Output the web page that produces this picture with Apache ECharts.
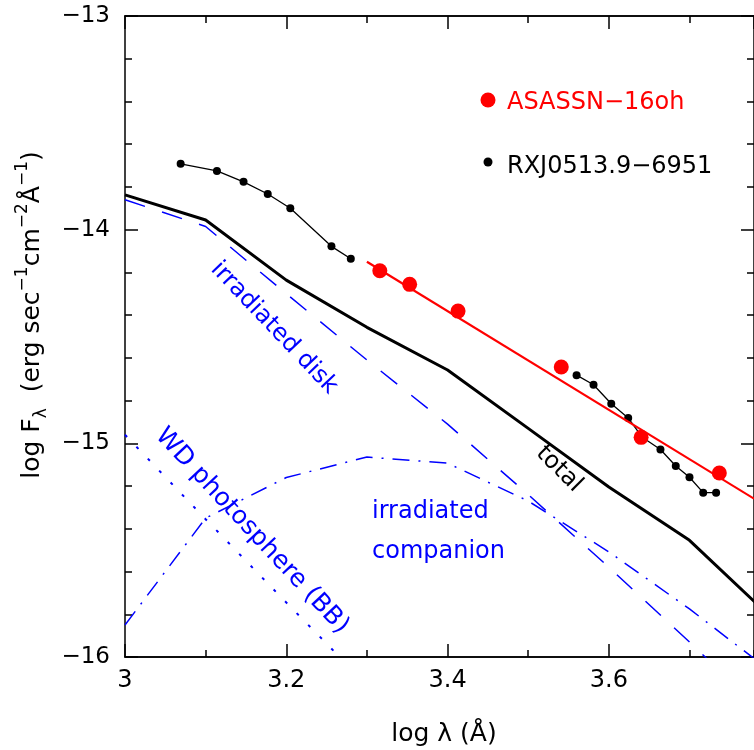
<!DOCTYPE html>
<html><head><meta charset="utf-8">
<script src="https://cdn.jsdelivr.net/npm/echarts@6/dist/echarts.min.js"></script>
<style>html,body{margin:0;padding:0;background:#fff}#c{width:754px;height:750px}</style>
</head><body><div id="c"></div>
<script>
// ---- data ----
const modelX      = [3.0, 3.1, 3.2, 3.3, 3.4, 3.5, 3.6, 3.7, 3.8];
const totalY      = [-13.837, -13.955, -14.236, -14.457, -14.657, -14.93, -15.204, -15.454, -15.81];
const diskY       = [-13.86, -13.985, -14.30, -14.61, -14.91, -15.24, -15.58, -15.93, -16.29];
const companionY  = [-15.85, -15.35, -15.16, -15.064, -15.093, -15.27, -15.508, -15.775, -16.065];
const wdX         = [3.0, 3.1, 3.2, 3.3];
const wdY         = [-14.96, -15.355, -15.745, -16.13];
const rxjX1       = [3.069, 3.114, 3.147, 3.177, 3.205, 3.256, 3.280];
const rxjY1       = [-13.692, -13.725, -13.776, -13.833, -13.900, -14.078, -14.136];
const rxjX2       = [3.560, 3.581, 3.603, 3.624, 3.641, 3.664, 3.683, 3.700, 3.717, 3.733];
const rxjY2       = [-14.681, -14.726, -14.815, -14.881, -14.970, -15.029, -15.106, -15.159, -15.231, -15.231];
const asasX       = [3.316, 3.353, 3.413, 3.541, 3.640, 3.737];
const asasY       = [-14.192, -14.256, -14.381, -14.643, -14.972, -15.139];
const fitX        = [3.30, 3.78];
const fitY        = [-14.150, -15.259];
const xTickLabels = ['3', '3.2', '3.4', '3.6'];
const yTickLabels = ['−16', '−15', '−14', '−13'];

const zip = (xs, ys) => xs.map((x, i) => [x, ys[i]]);
const F = 'DejaVu Sans';
const BLUE = '#0000ff', RED = '#ff0000';

function xAx(pos, interval, len, labels) {
  return {
    type: 'value', position: pos, min: 3, max: 3.78, interval: interval,
    axisLine: { show: true, onZero: false, lineStyle: { color: '#000', width: 1.5 } },
    axisTick: { show: true, inside: true, length: len, lineStyle: { color: '#000', width: 1.5 } },
    axisLabel: labels ? {
      show: true, margin: 12, color: '#000', fontFamily: F, fontSize: 24,
      showMaxLabel: false,
      formatter: v => { const k = Math.round((v - 3) * 5); return (Math.abs((v - 3) * 5 - k) < 1e-6 && k >= 0 && k < xTickLabels.length) ? xTickLabels[k] : ''; }
    } : { show: false },
    splitLine: { show: false }
  };
}
function yAx(pos, labels) {
  return {
    type: 'value', position: pos, min: -16, max: -13, interval: 1,
    axisLine: { show: true, onZero: false, lineStyle: { color: '#000', width: 1.5 } },
    axisTick: { show: true, inside: true, length: 13, lineStyle: { color: '#000', width: 1.5 } },
    minorTick: { show: true, splitNumber: 5, length: 7, lineStyle: { color: '#000', width: 1.5 } },
    axisLabel: labels ? {
      show: true, margin: 15, color: '#000', fontFamily: F, fontSize: 23,
      formatter: v => { const k = Math.round(v + 16); return yTickLabels[k] || ''; }
    } : { show: false },
    splitLine: { show: false }
  };
}

const chart = echarts.init(document.getElementById('c'), null, { renderer: 'canvas' });
chart.setOption({
  animation: false,
  backgroundColor: '#fff',
  grid: { left: 125, top: 16, width: 637, height: 641, containLabel: false },
  xAxis: [xAx('bottom', 0.1, 7, false), xAx('bottom', 0.2, 13, true), xAx('top', 0.1, 7, false), xAx('top', 0.2, 13, false)],
  yAxis: [yAx('left', true), yAx('right', false)],
  series: [
    { type: 'line', data: zip(modelX, diskY), symbol: 'none', lineStyle: { color: BLUE, width: 1.5, type: [21, 18] } },
    { type: 'line', data: zip(modelX, companionY), symbol: 'none', lineStyle: { color: BLUE, width: 1.5, type: [17, 9, 2, 9] } },
    { type: 'line', data: zip(wdX, wdY), symbol: 'none', lineStyle: { color: BLUE, width: 2, type: [3, 13.5] } },
    { type: 'line', data: zip(modelX, totalY), symbol: 'none', lineStyle: { color: '#000', width: 3 } },
    { type: 'line', z: 3, data: zip(rxjX1, rxjY1), symbol: 'circle', symbolSize: 8, itemStyle: { color: '#000', opacity: 1 }, lineStyle: { color: '#000', width: 1.3 } },
    { type: 'line', z: 3, data: zip(rxjX2, rxjY2), symbol: 'circle', symbolSize: 8, itemStyle: { color: '#000', opacity: 1 }, lineStyle: { color: '#000', width: 1.3 } },
    { type: 'line', z: 4, data: zip(fitX, fitY), symbol: 'none', lineStyle: { color: RED, width: 2.2 } },
    { type: 'scatter', z: 6, data: zip(asasX, asasY), symbol: 'circle', symbolSize: 15, itemStyle: { color: RED, opacity: 1 } }
  ],
  graphic: [
    { type: 'circle', shape: { cx: 488, cy: 100, r: 7.5 }, style: { fill: RED } },
    { type: 'text', x: 507, y: 103, style: { text: 'ASASSN−16oh', font: '24px "' + F + '"', fill: RED, align: 'left', verticalAlign: 'middle', textAlign: 'left', textVerticalAlign: 'middle' } },
    { type: 'circle', shape: { cx: 488, cy: 162, r: 4.5 }, style: { fill: '#000' } },
    { type: 'text', x: 507, y: 167, style: { text: 'RXJ0513.9−6951', font: '24px "' + F + '"', fill: '#000', align: 'left', verticalAlign: 'middle', textAlign: 'left', textVerticalAlign: 'middle' } },
    { type: 'text', x: 274, y: 328, rotation: -46.5 * Math.PI / 180, style: { text: 'irradiated disk', font: '24px "' + F + '"', fill: BLUE, align: 'center', verticalAlign: 'middle', textAlign: 'center', textVerticalAlign: 'middle' } },
    { type: 'text', x: 252, y: 531, rotation: -47 * Math.PI / 180, style: { text: 'WD photosphere (BB)', font: '25px "' + F + '"', fill: BLUE, align: 'center', verticalAlign: 'middle', textAlign: 'center', textVerticalAlign: 'middle' } },
    { type: 'text', x: 559, y: 469, rotation: -45 * Math.PI / 180, style: { text: 'total', font: '24px "' + F + '"', fill: '#000', align: 'center', verticalAlign: 'middle', textAlign: 'center', textVerticalAlign: 'middle' } },
    { type: 'text', x: 372, y: 512, style: { text: 'irradiated', font: '24px "' + F + '"', fill: BLUE, align: 'left', verticalAlign: 'middle', textAlign: 'left', textVerticalAlign: 'middle' } },
    { type: 'text', x: 372, y: 552, style: { text: 'companion', font: '24px "' + F + '"', fill: BLUE, align: 'left', verticalAlign: 'middle', textAlign: 'left', textVerticalAlign: 'middle' } },
    { type: 'text', x: 444, y: 734, style: { text: 'log λ (Å)', font: '25px "' + F + '"', fill: '#000', align: 'center', verticalAlign: 'middle', textAlign: 'center', textVerticalAlign: 'middle' } },
    { type: 'text', x: 32, y: 315, rotation: Math.PI / 2, style: {
        text: '{a|log F}{sub|λ}{a|  (erg sec}{sup|−1}{a|cm}{sup|−2}{a|Å}{sup|−1}{a|)}',
        align: 'center', verticalAlign: 'middle', textAlign: 'center', textVerticalAlign: 'middle',
        rich: {
          a:   { fontFamily: F, fontSize: 25, lineHeight: 36, color: '#000' },
          sup: { fontFamily: F, fontSize: 17, lineHeight: 36, color: '#000', verticalAlign: 'top' },
          sub: { fontFamily: F, fontSize: 17, lineHeight: 36, color: '#000', verticalAlign: 'bottom' }
        } } }
  ]
});
</script></body></html>
